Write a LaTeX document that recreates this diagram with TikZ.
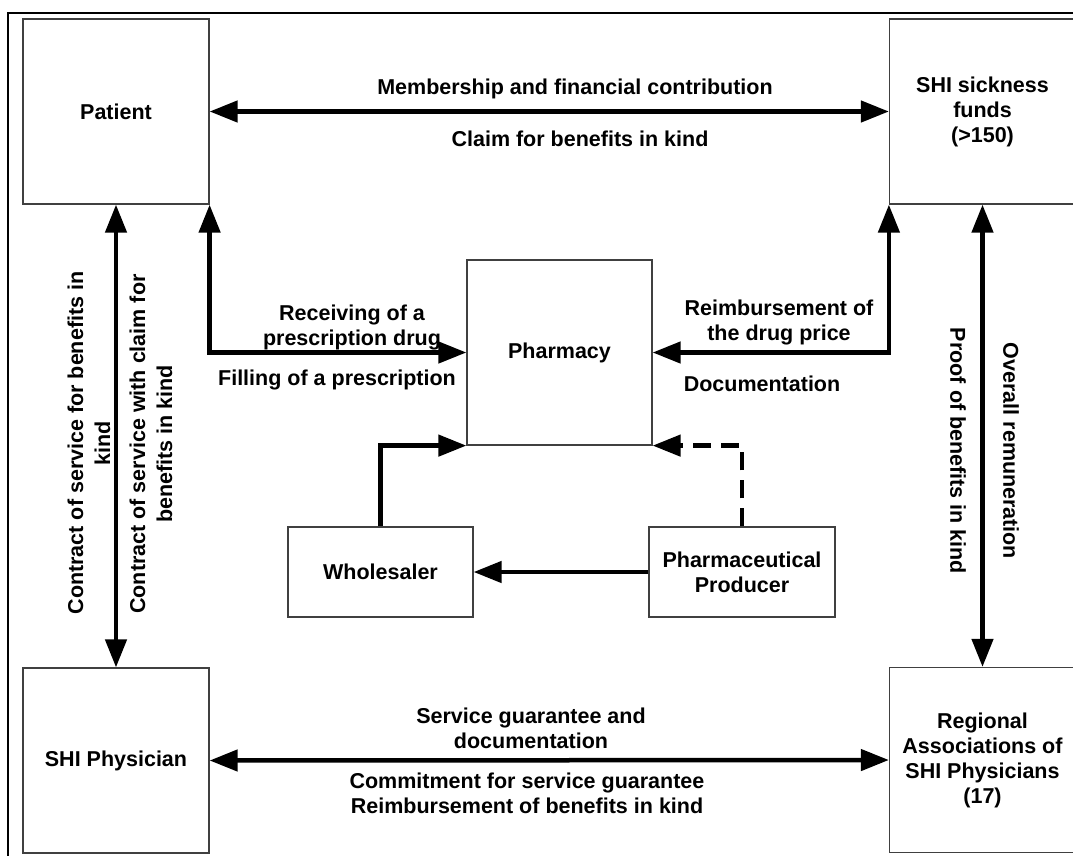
\documentclass[tikz,border=0pt]{standalone}
\usepackage{fontspec}
\setmainfont{Liberation Sans}
\usetikzlibrary{arrows.meta}
\newcommand\diagfont{\fontsize{21.5}{25}\selectfont\bfseries}
\begin{document}
\begin{tikzpicture}[x=1pt,y=-1pt,
  box/.style={draw=black!75, line width=1.2pt, fill=white, inner sep=0pt,
    minimum width=186pt, minimum height=185pt, align=center, font=\diagfont},
  smallbox/.style={box, minimum height=90pt},
  lbl/.style={inner sep=0pt, align=center, font=\diagfont},
  rlbl/.style={lbl, font=\fontsize{21.5}{27}\selectfont\bfseries},
  tip/.tip={Triangle[length=28pt,width=21pt]},
  dbl/.style={line width=4.5pt, tip-tip},
  single/.style={line width=4.5pt, -tip},
  dashline/.style={single, dash pattern=on 18pt off 10pt}
]
\useasboundingbox (0,0) rectangle (1073,855);
\clip (0,0) rectangle (1073,855);
\fill[white] (0,0) rectangle (1073,855);
\draw[line width=2.5pt] (8,13) rectangle (1100,890);

% boxes
\node[box] (patient) at (116,111.5) {Patient};
\node[box] (shi) at (982.5,111.5) {SHI sickness\\funds\\(>150)};
\node[box] (phys) at (116,760.5) {SHI Physician};
\node[box] (regional) at (982.5,760) {Regional\\Associations of\\SHI Physicians\\(17)};
\node[box, minimum width=185pt] (pharmacy) at (559.5,352.5) {Pharmacy};
\node[smallbox, minimum width=185pt] (wholesaler) at (380.5,572) {Wholesaler};
\node[smallbox] (producer) at (742,572) {Pharmaceutical\\Producer};

% connectors
\draw[dbl] (patient.east) -- (shi.west);
\draw[dbl] (patient.south) -- (phys.north);
\draw[dbl] (patient.south east) |- (pharmacy.west);
\draw[dbl] (shi.south west) |- (pharmacy.east);
\draw[dbl] (shi.south) -- (regional.north);
\draw[dbl] (phys.east) -- (regional.west);
\draw[single] (wholesaler.north) |- (pharmacy.south west);
\draw[single] (producer.west) -- (wholesaler.east);
\draw[dashline] (producer.north) |- (pharmacy.south east);

% labels
\node[lbl] (l1) at (575,89) {Membership and financial contribution};
\node[lbl] (l2) at (580,139) {Claim for benefits in kind};
\node[lbl] (l3) at (352,327) {Receiving of a\\prescription drug};
\node[lbl] (l4) at (337,380) {Filling of a prescription};
\node[lbl] (l5) at (779,322) {Reimbursement of\\the drug price};
\node[lbl] (l6) at (762,384) {Documentation};
\node[rlbl, rotate=90] (l7) at (89,443) {Contract of service for benefits in\\kind};
\node[rlbl, rotate=90] (l8) at (151,444) {Contract of service with claim for\\benefits in kind};
\node[rlbl, rotate=-90] (l9) at (958,451) {Proof of benefits in kind};
\node[rlbl, rotate=-90] (l10) at (1011,451) {Overall remuneration};
\node[lbl] (l11) at (531,728) {Service guarantee and\\documentation};
\node[lbl] (l12) at (527,793) {Commitment for service guarantee\\Reimbursement of benefits in kind};
\end{tikzpicture}
\end{document}
